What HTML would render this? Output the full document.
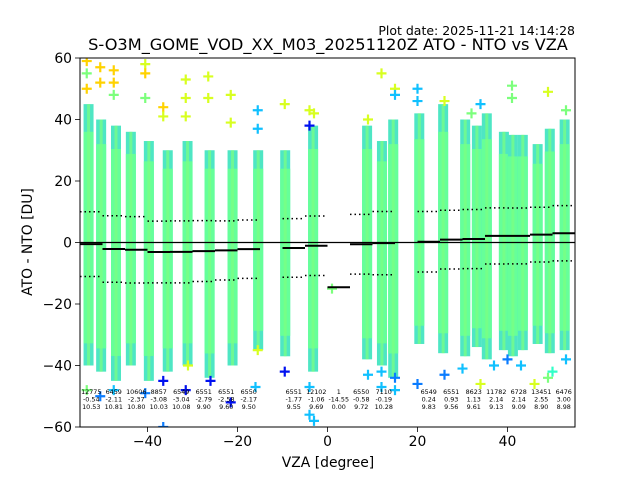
<!DOCTYPE html>
<html><head><meta charset="utf-8"><style>
body{margin:0;background:#fff}
svg text{font-family:"DejaVu Sans","Liberation Sans",sans-serif}
</style></head><body>
<svg id="chart" width="640" height="480" xmlns="http://www.w3.org/2000/svg">
<rect width="640" height="480" fill="#fff"/>
<text x="575" y="35" font-size="12.5" text-anchor="end">Plot date: 2025-11-21 14:14:28</text>
<text x="328" y="50" font-size="16.2" text-anchor="middle">S-O3M_GOME_VOD_XX_M03_20251120Z ATO - NTO vs VZA</text>
<defs><clipPath id="pc"><rect x="80" y="58" width="495" height="369"/></clipPath></defs>
<g id="plot" clip-path="url(#pc)"></g>
<g id="axes"></g>
<text x="328" y="467" font-size="13.9" text-anchor="middle">VZA [degree]</text>
<text transform="translate(32,242) rotate(-90)" font-size="13.9" text-anchor="middle">ATO - NTO [DU]</text>
</svg>
<script>
const binLo=[-55,-50,-45,-40,-35,-30,-25,-20,-10,-5,0,5,10,20,25,30,35,40,45,50];
const binHi=[-50,-45,-40,-35,-30,-25,-20,-15,-5,0,5,10,15,25,30,35,40,45,50,55];
const binCount=["12775","6459","10606","8857","6549","6551","6551","6550","6551","12102","1","6550","7110","6549","6551","8623","11782","6728","13451","6476"];
const binMedian=[-0.54,-2.11,-2.37,-3.08,-3.04,-2.79,-2.58,-2.17,-1.77,-1.06,-14.55,-0.58,-0.19,0.24,0.93,1.13,2.14,2.14,2.55,3.00];
const binStd=[10.53,10.81,10.80,10.03,10.08,9.90,9.60,9.50,9.55,9.69,0.00,9.72,10.28,9.83,9.56,9.61,9.13,9.09,8.90,8.98];
const stripeVza=[-53.1,-50.3,-47,-43.7,-39.7,-35.5,-31.1,-26.2,-21.1,-15.4,-9.4,-3.2,8.8,12.1,14.6,20.4,25.7,30.6,33.2,35.4,39.2,41.2,43.4,46.7,49.4,52.7];
const stripeTop=[45,40,38,36,33,30,33,30,30,30,30,38,38,33,40,42,45,40,38,42,36,35,35,32,37,40];
const stripeBot=[-40,-42,-45,-40,-45,-42,-40,-44,-40,-35,-37,-42,-38,-40,-44,-33,-36,-37,-34,-38,-35,-37,-35,-33,-36,-35];
const outVza=[-53.5,-53.5,-53.5,-50.5,-50.5,-47.5,-47.5,-47.5,-40.5,-40.5,-40.5,-36.5,-36.5,-31.5,-31.5,-31.5,-26.5,-26.5,-21.5,-21.5,-15.5,-15.5,-9.5,-4,-4,-3,1,9,12,15,15,20,20,26,32,34,41,41,49,53,-53.5,-50.5,-47.5,-40.5,-36.5,-36.5,-31.5,-26,-21.5,-16,-9.5,-4,-3,-4,9,12,15,15,20,26,34,37,40,43,46,49,50,53,-15.5,12,30,-31];
const outVal=[59,55,50,57,52,56,52,48,58,55,47,44,41,53,47,41,54,47,48,39,43,37,45,43,38,42,-15,40,55,50,48,50,46,46,42,45,51,47,49,43,-48,-50,-48,-49,-60,-45,-48,-45,-52,-47,-42,-56,-58,-47,-43,-47,-48,-44,-46,-43,-46,-40,-38,-40,-46,-44,-42,-38,-35,-42,-41,-40];
const outCol=["o","g","o","o","o","o","o","g","y","o","g","o","y","y","y","y","y","y","y","y","c","c","y","y","db","y","g","y","y","y","c","c","c","y","g","c","g","g","y","g","g","b","c","b","b","db","db","db","db","c","db","c","c","c","c","c","c","b","b","b","y","c","b","c","y","g","t","c","y","c","c","y"];
const xTicks=[-40,-20,0,20,40];
const yTicks=[-60,-40,-20,0,20,40,60];

const X0=80,X1=575,Y0=58,Y1=427,xmin=-55,xmax=55,ymin=-60,ymax=60;
const sx=v=>X0+(v-xmin)/(xmax-xmin)*(X1-X0);
const sy=v=>Y1-(v-ymin)/(ymax-ymin)*(Y1-Y0);
const NS="http://www.w3.org/2000/svg";
const colors={o:"#ffd200",y:"#d8ff20",g:"#7cff7c",c:"#10c0ff",b:"#0a7cff",db:"#0010f0",t:"#30ffc8"};
function mk(tag,attrs,parent){const e=document.createElementNS(NS,tag);for(const k in attrs)e.setAttribute(k,attrs[k]);parent.appendChild(e);return e;}
const plot=document.getElementById('plot'),axes=document.getElementById('axes');
stripeVza.forEach((v,i)=>{
  const x=sx(v);
  const f=mk('rect',{x:x-5,y:sy(stripeTop[i]),width:10,height:sy(stripeBot[i])-sy(stripeTop[i]),fill:"#4ee6c4"},plot);
  
  
  const c=mk('rect',{x:x-5,y:sy(stripeTop[i]*0.8),width:10,height:sy(stripeBot[i]*0.82)-sy(stripeTop[i]*0.8),fill:"#66ff99"},plot);
  
  
  const l=mk('rect',{x:x-1.5,y:sy(stripeTop[i]),width:3,height:sy(stripeBot[i])-sy(stripeTop[i]),fill:"#7cff80",opacity:0.7},plot);
  
  
});
outVza.forEach((v,i)=>{
  const x=sx(v),y=sy(outVal[i]);
  const p=mk('path',{d:`M${x-5},${y}H${x+5}M${x},${y-5}V${y+5}`,stroke:colors[outCol[i]],"stroke-width":2.2,fill:"none"},plot);
  
  
});
const z=mk('line',{x1:X0,x2:X1,y1:sy(0),y2:sy(0),stroke:"#000","stroke-width":1.2},plot);


binLo.forEach((lo,i)=>{
  const x1=sx(lo),x2=sx(binHi[i]);
  const m=mk('line',{x1:x1,x2:x2,y1:sy(binMedian[i]),y2:sy(binMedian[i]),stroke:"#000","stroke-width":2},plot);
  
  
  [1,-1].forEach(s=>{
    const d=mk('line',{x1:x1,x2:x2,y1:sy(binMedian[i]+s*binStd[i]),y2:sy(binMedian[i]+s*binStd[i]),stroke:"#000","stroke-width":1.5,"stroke-dasharray":"1.5,3"},plot);
    
    
  });
  const cx=(x1+x2)/2;
  [binCount[i],binMedian[i].toFixed(2),binStd[i].toFixed(2)].forEach((t,k)=>{
    const tx=mk('text',{x:cx,y:394+k*7.6,"font-size":6.4,"text-anchor":"middle",fill:"#000"},plot);
    tx.textContent=t;
    
    
  });
});
const fr=mk('rect',{x:X0,y:Y0,width:X1-X0,height:Y1-Y0,fill:"none",stroke:"#000","stroke-width":1},axes);


xTicks.forEach(v=>{
  const x=sx(v);
  const t=mk('line',{x1:x,x2:x,y1:Y1,y2:Y1+5,stroke:"#000","stroke-width":0.8},axes);
  
  
  const l=mk('text',{x:x,y:Y1+19,"font-size":13.9,"text-anchor":"middle"},axes);
  l.textContent=v<0?"\u2212"+(-v):String(v);
  
  
});
yTicks.forEach(v=>{
  const y=sy(v);
  const t=mk('line',{x1:X0-5,x2:X0,y1:y,y2:y,stroke:"#000","stroke-width":0.8},axes);
  
  
  const l=mk('text',{x:X0-8,y:y+5,"font-size":13.9,"text-anchor":"end"},axes);
  l.textContent=v<0?"\u2212"+(-v):String(v);
  
  
});
</script>
</body></html>
